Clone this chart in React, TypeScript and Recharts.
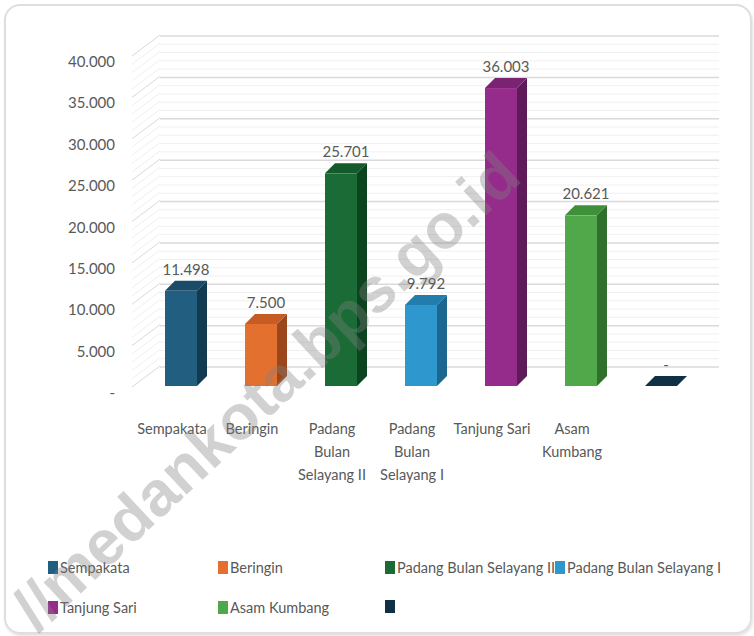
import React from 'react';
import { BarChart, Bar, XAxis, YAxis, CartesianGrid, LabelList, Legend } from 'recharts';

// ---- data ----
const categories = [
  'Sempakata',
  'Beringin',
  'Padang Bulan Selayang II',
  'Padang Bulan Selayang I',
  'Tanjung Sari',
  'Asam Kumbang',
  '',
];
const values = [11498, 7500, 25701, 9792, 36003, 20621, 0];
const xTickLines = [
  ['Sempakata'],
  ['Beringin'],
  ['Padang', 'Bulan', 'Selayang II'],
  ['Padang', 'Bulan', 'Selayang I'],
  ['Tanjung Sari'],
  ['Asam', 'Kumbang'],
  [''],
];
const yTicks = [0, 5000, 10000, 15000, 20000, 25000, 30000, 35000, 40000];
const Y_MAX = 40000;
const MINOR_STEP = 1000;
const watermarkText = '//medankota.bps.go.id';

// ---- styles ----
const frontColors = ['#215E80', '#E4702F', '#1B6B36', '#2E98CE', '#952C8B', '#50A84B', '#0F3045'];
const topColors = ['#1A4C69', '#C65C24', '#155A2C', '#237DAC', '#7B2373', '#3F8F3B', '#0F3045'];
const sideColors = ['#123A51', '#9C471B', '#0E4320', '#1C6790', '#5F1B59', '#30702D', '#0F3045'];
const legendCols = [48, 218, 385, 555];
const legendRows = [560, 600];
const FONT = 'Lato, "Open Sans", sans-serif';
const FS = 14.5;
const TEXT = '#595959';
const DEPTH = 10;

const minorTicks: number[] = [];
for (let v = 0; v <= Y_MAX; v += MINOR_STEP) minorTicks.push(v);

const data = categories.map((c, i) => ({ key: 'k' + i, name: c, value: values[i] }));

const fmt = (v: number) => (v === 0 ? '-' : String(v).replace(/\B(?=(\d{3})+(?!\d))/g, '.'));

const Bar3D = (props: any) => {
  const { x, y, width, height, index } = props;
  const h = Math.max(0, height || 0);
  const d = DEPTH;
  return (
    <g>
      <polygon
        points={`${x},${y} ${x + width},${y} ${x + width + d},${y - d} ${x + d},${y - d}`}
        fill={topColors[index]}
      />
      {h > 0 && (
        <polygon
          points={`${x + width},${y} ${x + width + d},${y - d} ${x + width + d},${y + h - d} ${x + width},${y + h}`}
          fill={sideColors[index]}
        />
      )}
      {h > 0 && <rect x={x} y={y} width={width} height={h} fill={frontColors[index]} />}
    </g>
  );
};

const ValueLabel = (props: any) => {
  const { x, y, width, value } = props;
  return (
    <text
      x={x + (width + DEPTH) / 2}
      y={y - 16}
      textAnchor="middle"
      fill={TEXT}
      fontSize={FS + 0.5}
      fontFamily={FONT}
    >
      {fmt(Number(value))}
    </text>
  );
};

const YTick = (props: any) => {
  const { x, y, payload } = props;
  const v = payload.value as number;
  const major = yTicks.includes(v);
  return (
    <g>
      <line
        x1={x - 9}
        y1={y + 1}
        x2={x + 19}
        y2={y - 20}
        stroke={major ? '#d9d9d9' : '#efefef'}
        strokeWidth={1}
      />
      {major && (
        <text x={x - 26} y={y + 12} textAnchor="end" fill={TEXT} fontSize={FS + 0.5} fontFamily={FONT}>
          {fmt(v)}
        </text>
      )}
    </g>
  );
};

const XTick = (props: any) => {
  const { x, y, index } = props;
  const lines = xTickLines[index] || [];
  return (
    <g>
      {lines.map((l, i) => (
        <text
          key={i}
          x={x - 9}
          y={y + 40 + i * 23}
          textAnchor="middle"
          fill={TEXT}
          fontSize={FS}
          fontFamily={FONT}
        >
          {l}
        </text>
      ))}
    </g>
  );
};

const LegendGrid = () => (
  <div style={{ position: 'relative', width: 754, height: 80 }}>
    {categories.map((c, i) => (
      <div
        key={i}
        style={{
          position: 'absolute',
          left: legendCols[i % 4],
          top: legendRows[Math.floor(i / 4)] - 550,
          display: 'flex',
          alignItems: 'center',
          fontFamily: FONT,
          fontSize: FS,
          color: TEXT,
          whiteSpace: 'nowrap',
          lineHeight: '15px',
        }}
      >
        <span style={{ display: 'inline-block', width: 10, height: 13, background: frontColors[i], marginRight: 2 }} />
        <span>{c}</span>
      </div>
    ))}
  </div>
);

const toPixel = (yAxis: any, offset: any, v: number) => {
  const s = yAxis && yAxis.scale;
  if (typeof s === 'function') return s(v);
  if (s && typeof s.map === 'function') return s.map(v);
  if (s && typeof s.scale === 'function') return s.scale(v);
  return offset.top + offset.height * (1 - v / Y_MAX);
};

const majorGen = ({ yAxis, offset }: any) => yTicks.map((v) => toPixel(yAxis, offset, v) - 19);
const minorGen = ({ yAxis, offset }: any) =>
  minorTicks.filter((v) => v % 5000 !== 0).map((v) => toPixel(yAxis, offset, v) - 19);

export default function App() {
  return (
    <div style={{ position: 'absolute', left: 0, top: 0, width: 754, height: 636, overflow: 'hidden', background: '#fff' }}>
      <div
        style={{
          position: 'absolute',
          left: 4,
          top: 4,
          width: 744,
          height: 626,
          border: '2px solid #dedede',
          borderRadius: 16,
          boxShadow: '1px 2px 3px rgba(0,0,0,0.12)',
        }}
      />
      <div style={{ position: 'absolute', left: 0, top: 0 }}>
        <BarChart
          width={754}
          height={636}
          data={data}
          margin={{ top: 55, right: 53, bottom: 0, left: 0 }}
          barSize={32}
        >
          <CartesianGrid
            x={160}
            width={559}
            vertical={false}
            stroke="#f0f0f0"
            strokeWidth={1}
            horizontalCoordinatesGenerator={minorGen}
          />
          <CartesianGrid
            x={160}
            width={559}
            vertical={false}
            stroke="#dadada"
            strokeWidth={1.5}
            horizontalCoordinatesGenerator={majorGen}
          />
          <XAxis
            dataKey="key"
            height={250}
            axisLine={false}
            tickLine={false}
            tick={<XTick />}
            interval={0}
          />
          <YAxis
            width={141}
            domain={[0, Y_MAX]}
            ticks={minorTicks}
            interval={0}
            axisLine={false}
            tickLine={false}
            tickSize={0}
            tickMargin={0}
            tick={<YTick />}
          />
          <Bar dataKey="value" shape={<Bar3D />} isAnimationActive={false}>
            <LabelList dataKey="value" content={<ValueLabel />} />
          </Bar>
          <Legend
            layout="horizontal"
            verticalAlign="middle"
            align="center"
            wrapperStyle={{ position: 'absolute', left: 0, top: 550, width: 754, height: 80 }}
            content={() => <LegendGrid />}
          />
        </BarChart>
      </div>
      <svg width={754} height={636} style={{ position: 'absolute', left: 0, top: 0, pointerEvents: 'none' }}>
        <text
          x={524}
          y={180}
          textAnchor="end"
          fontFamily='"Liberation Sans", Arial, sans-serif'
          fontWeight="bold"
          fontSize={63}
          fill="#808080"
          fillOpacity={0.36}
          transform="rotate(-43 524 180)"
        >
          {watermarkText}
        </text>
      </svg>
    </div>
  );
}
